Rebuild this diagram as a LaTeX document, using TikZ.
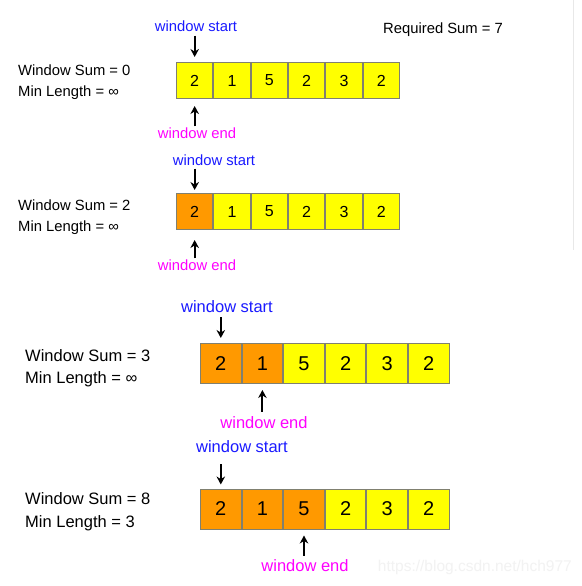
\documentclass[tikz,border=0pt]{standalone}
\usepackage{fontspec}
\setmainfont{Liberation Sans}
\usetikzlibrary{arrows.meta}
\definecolor{cellyellow}{HTML}{FFFF00}
\definecolor{cellorange}{HTML}{FF9900}
\definecolor{cellborder}{HTML}{808070}
\definecolor{startblue}{HTML}{1A1AFF}
\definecolor{endmagenta}{HTML}{FF00FF}
\tikzset{
  cellA/.style={draw=cellborder, line width=1pt, minimum width=36.3pt, minimum height=36pt, inner sep=0pt, font=\fontsize{16}{18}\selectfont},
  cellB/.style={draw=cellborder, line width=1pt, minimum width=40.6pt, minimum height=40pt, inner sep=0pt, font=\fontsize{20}{23}\selectfont},
  yel/.style={fill=cellyellow},
  org/.style={fill=cellorange},
  lblA/.style={inner sep=0pt, font=\fontsize{14.8}{16}\selectfont},
  lblB/.style={inner sep=0pt, font=\fontsize{16.5}{18}\selectfont},
  arr/.style={-{Stealth[length=8pt,width=8.5pt]}, line width=2pt, black},
}
\begin{document}
\begin{tikzpicture}[x=1pt,y=-1pt]
\useasboundingbox (0,0) rectangle (581,586);
\fill[white] (0,0) rectangle (581,586);
\coordinate (lt) at (573,0);
\coordinate (lb) at (573,250);
\draw[gray!18, line width=1pt] (lt) -- (lb);

\node[lblA, anchor=west] (req) at (383,30) {Required Sum = 7};

% ---------- Row 1 ----------
\foreach \v [count=\i] in {2,1,5,2,3,2}
  \node[cellA, yel] (a\i) at ({176+18.67+37.33*(\i-1)},80.5) {\v};
\node[lblA, anchor=west] (ws1txt) at (18,70) {Window Sum = 0};
\node[lblA, anchor=west] (ml1txt) at (18,93) {Min Length = ∞};
\node[lblA, text=startblue] (st1) at (196,26) {window start};
\node[lblA, text=endmagenta] (en1) at (197,133) {window end};
\draw[arr, shorten <=4pt, shorten >=5pt] (st1.south -| a1.north) -- (a1.north);
\draw[arr, shorten <=1pt, shorten >=7pt] (en1.north -| a1.south) -- (a1.south);

% ---------- Row 2 ----------
\node[cellA, org] (b1) at ({176+18.67},211.5) {2};
\foreach \v [count=\i from 2] in {1,5,2,3,2}
  \node[cellA, yel] (b\i) at ({176+18.67+37.33*(\i-1)},211.5) {\v};
\node[lblA, anchor=west] (ws2txt) at (18,205) {Window Sum = 2};
\node[lblA, anchor=west] (ml2txt) at (18,228) {Min Length = ∞};
\node[lblA, text=startblue] (st2) at (214,160) {window start};
\node[lblA, text=endmagenta] (en2) at (197,265) {window end};
\draw[arr, shorten <=3pt, shorten >=3pt] (st2.south -| b1.north) -- (b1.north);
\draw[arr, shorten <=1pt, shorten >=10pt] (en2.north -| b1.south) -- (b1.south);

% ---------- Row 3 ----------
\foreach \v/\c [count=\i] in {2/org,1/org,5/yel,2/yel,3/yel,2/yel}
  \node[cellB, \c] (c\i) at ({200+20.8+41.6*(\i-1)},363.5) {\v};
\node[lblB, anchor=west] (ws3txt) at (25,356) {Window Sum = 3};
\node[lblB, anchor=west] (ml3txt) at (25,379) {Min Length = ∞};
\node[lblB, text=startblue] (st3) at (227,307) {window start};
\node[lblB, text=endmagenta] (en3) at (264,423) {window end};
\draw[arr, shorten <=4pt, shorten >=5pt] (st3.south -| c1.north) -- (c1.north);
\draw[arr, shorten <=5pt, shorten >=6pt] (en3.north -| c2.south) -- (c2.south);

% ---------- Row 4 ----------
\foreach \v/\c [count=\i] in {2/org,1/org,5/org,2/yel,3/yel,2/yel}
  \node[cellB, \c] (d\i) at ({200+20.8+41.6*(\i-1)},509) {\v};
\node[lblB, anchor=west] (ws4txt) at (25,499) {Window Sum = 8};
\node[lblB, anchor=west] (ml4txt) at (25,523) {Min Length = 3};
\node[lblB, text=startblue] (st4) at (242,447) {window start};
\node[lblB, text=endmagenta] (en4) at (305,566) {window end};
\draw[arr, shorten <=11pt, shorten >=4pt] (st4.south -| d1.north) -- (d1.north);
\draw[arr, shorten <=4pt, shorten >=6pt] (en4.north -| d3.south) -- (d3.south);

\node[inner sep=0pt, anchor=east, text=gray!10, font=\fontsize{15.5}{17}\selectfont] (wm) at (572,567) {https://blog.csdn.net/hch977};
\end{tikzpicture}
\end{document}
